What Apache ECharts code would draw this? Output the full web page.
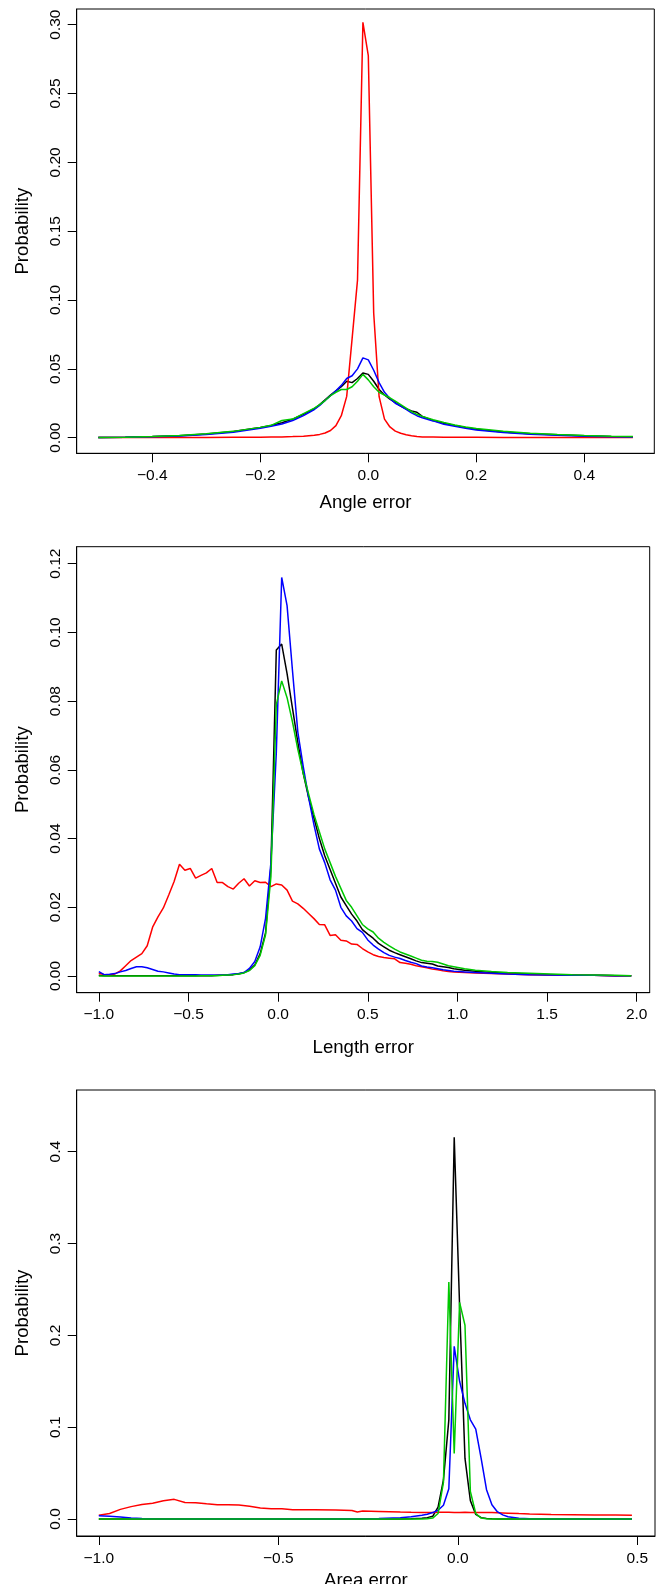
<!DOCTYPE html>
<html>
<head>
<meta charset="utf-8">
<script src="https://cdn.jsdelivr.net/npm/echarts@6.0.0/dist/echarts.min.js"></script>
<style>
html,body{margin:0;padding:0;background:#fff;}
#chart{width:663px;height:1584px;}
</style>
</head>
<body>
<div id="chart"></div>
<script>
// ---------- Panel 1: Angle error ----------
const angleX = [-0.5,-0.45,-0.4,-0.35,-0.3,-0.25,-0.2,-0.18,-0.16,-0.14,-0.12,
  -0.1,-0.09,-0.08,-0.07,-0.06,-0.05,-0.04,-0.03,-0.02,-0.01,0,0.01,0.02,0.03,0.04,0.05,0.06,0.07,0.08,0.09,0.1,
  0.12,0.14,0.16,0.18,0.2,0.25,0.3,0.35,0.4,0.45,0.49];
const angleBlack = [0.0002,0.0004,0.0008,0.0015,0.0027,0.0045,0.0075,0.0088,0.0108,0.0135,0.017,
  0.021,0.024,0.0275,0.031,0.034,0.037,0.041,0.040,0.043,0.047,0.046,0.041,0.035,0.031,0.028,0.0255,0.023,0.021,0.0195,0.0185,0.0155,
  0.0125,0.0105,0.0088,0.0074,0.0062,0.0042,0.0029,0.0021,0.0014,0.0009,0.0006];
const angleRed = [0.0001,0.0001,0.0001,0.0002,0.0002,0.0003,0.0004,0.0005,0.0006,0.0008,0.0011,
  0.0017,0.0024,0.0034,0.0052,0.0088,0.016,0.030,0.072,0.1145,0.3017,0.2775,0.0904,0.0298,0.0135,0.0078,0.0048,0.0032,0.0022,0.0014,0.0008,0.0006,
  0.0005,0.0004,0.0004,0.0003,0.0003,0.0002,0.0002,0.0002,0.0001,0.0001,0.0001];
const angleBlue = [0.0002,0.0004,0.0007,0.0013,0.0024,0.0040,0.0068,0.0083,0.0100,0.0125,0.016,
  0.0205,0.0235,0.027,0.0305,0.034,0.038,0.043,0.045,0.050,0.058,0.0565,0.049,0.040,0.033,0.0285,0.025,0.023,0.0205,0.018,0.016,0.0145,
  0.0122,0.0097,0.0083,0.0068,0.0056,0.0038,0.0025,0.0017,0.0011,0.0007,0.0005];
const angleGreen = [0.0002,0.0004,0.0008,0.0016,0.0029,0.0046,0.0075,0.009,0.0125,0.0135,0.0175,
  0.0215,0.024,0.027,0.0305,0.033,0.035,0.035,0.037,0.041,0.046,0.042,0.037,0.033,0.031,0.029,0.0265,0.024,0.0215,0.019,0.017,0.0155,
  0.013,0.011,0.0092,0.0078,0.0066,0.0046,0.0032,0.0023,0.0016,0.0011,0.0008];
const angleXTicks = [-0.4,-0.2,0,0.2,0.4];
const angleYTicks = [0,0.05,0.10,0.15,0.20,0.25,0.30];

// ---------- Panel 2: Length error ----------
const lengthX = [-1.00,-0.97,-0.94,-0.91,-0.88,-0.85,-0.82,-0.79,-0.76,-0.73,
  -0.70,-0.67,-0.64,-0.61,-0.58,-0.55,-0.52,-0.49,-0.46,-0.43,
  -0.40,-0.37,-0.34,-0.31,-0.28,-0.25,-0.22,-0.19,-0.16,-0.13,
  -0.10,-0.07,-0.04,-0.01,0.02,0.05,0.08,0.11,0.14,0.17,
  0.20,0.23,0.26,0.29,0.32,0.35,0.38,0.41,0.44,0.47,
  0.50,0.53,0.56,0.59,0.62,0.65,0.68,0.71,0.74,0.77,
  0.80,0.83,0.86,0.89,0.92,0.95,0.98,1.01,1.04,1.10,
  1.19,1.28,1.40,1.52,1.64,1.76,1.88,1.97];
const lengthBlack = [0.0002,0.0001,0.0001,0.0001,0.0001,0.0001,0.0001,0.0001,0.0001,0.0001,
  0.0001,0.0001,0.0001,0.0001,0.0001,0.0001,0.0001,0.0001,0.0001,0.0001,
  0.0001,0.0001,0.0002,0.0002,0.0003,0.0004,0.0006,0.0010,0.0017,0.0032,
  0.0065,0.0125,0.0320,0.0949,0.0966,0.0880,0.0780,0.0680,0.0590,0.0520,
  0.0460,0.0400,0.0350,0.0310,0.0270,0.0230,0.0205,0.0180,0.0160,0.0135,
  0.0122,0.0110,0.0095,0.0085,0.0075,0.0068,0.0062,0.0056,0.0050,0.0044,
  0.0039,0.0037,0.0035,0.0029,0.0027,0.0025,0.0021,0.0019,0.0017,0.0014,
  0.0010,0.0008,0.0006,0.0004,0.0003,0.0002,0.0001,0.0001];
const lengthRed = [0.0008,0.0004,0.0003,0.0006,0.0015,0.0030,0.0045,0.0055,0.0065,0.0088,
  0.0142,0.0172,0.0198,0.0236,0.0275,0.0325,0.0308,0.0313,0.0285,0.0293,
  0.0300,0.0313,0.0272,0.0272,0.0260,0.0253,0.0270,0.0283,0.0262,0.0277,
  0.0272,0.0273,0.0260,0.0268,0.0265,0.0250,0.0218,0.0210,0.0197,0.0182,
  0.0167,0.0150,0.0149,0.0118,0.0120,0.0104,0.0102,0.0093,0.0092,0.0080,
  0.0070,0.0062,0.0057,0.0054,0.0052,0.0050,0.0039,0.0037,0.0034,0.0030,
  0.0027,0.0024,0.0020,0.0018,0.0015,0.0013,0.0012,0.0011,0.0010,0.0009,
  0.0007,0.0006,0.0004,0.0003,0.0002,0.0002,0.0001,0.0001];
const lengthBlue = [0.0013,0.0004,0.0005,0.0007,0.0012,0.0016,0.0022,0.0027,0.0027,0.0024,
  0.0019,0.0014,0.0012,0.0009,0.0006,0.0004,0.0004,0.0004,0.0004,0.0003,
  0.0003,0.0003,0.0002,0.0003,0.0004,0.0006,0.0007,0.0010,0.0022,0.0042,
  0.0085,0.0168,0.0330,0.0650,0.1160,0.1078,0.0890,0.0710,0.0610,0.0520,
  0.0440,0.0370,0.0330,0.0280,0.0250,0.0200,0.0175,0.0160,0.0138,0.0127,
  0.0105,0.0090,0.0078,0.0068,0.0060,0.0055,0.0051,0.0045,0.0040,0.0036,
  0.0029,0.0026,0.0024,0.0021,0.0018,0.0016,0.0014,0.0013,0.0012,0.0010,
  0.0008,0.0006,0.0004,0.0003,0.0002,0.0002,0.0001,0.0001];
const lengthGreen = [0,0,0,0,0,0,0,0,0,0,
  0,0,0,0,0,0,0,0,0,0.0001,
  0.0001,0.0001,0.0001,0.0002,0.0003,0.0004,0.0006,0.0009,0.0016,0.0030,
  0.0060,0.0120,0.0290,0.0790,0.0859,0.0810,0.0740,0.0660,0.0590,0.0530,
  0.0470,0.0420,0.0370,0.0330,0.0290,0.0255,0.0220,0.0200,0.0175,0.0150,
  0.0137,0.0128,0.0110,0.0098,0.0088,0.0078,0.0070,0.0064,0.0058,0.0052,
  0.0046,0.0043,0.0042,0.0040,0.0035,0.0030,0.0027,0.0024,0.0021,0.0017,
  0.0013,0.0010,0.0008,0.0006,0.0004,0.0003,0.0002,0.0001];
const lengthXTicks = [-1.0,-0.5,0,0.5,1.0,1.5,2.0];
const lengthYTicks = [0,0.02,0.04,0.06,0.08,0.10,0.12];

// ---------- Panel 3: Area error ----------
const areaX = [-1.000,-0.970,-0.940,-0.910,-0.880,-0.850,-0.820,-0.790,-0.760,-0.730,
  -0.700,-0.670,-0.640,-0.610,-0.580,-0.550,-0.520,-0.490,-0.460,-0.400,
  -0.340,-0.295,-0.280,-0.265,-0.220,-0.160,-0.130,-0.100,-0.085,-0.070,
  -0.055,-0.040,-0.025,-0.010,0.005,0.020,0.035,0.050,0.065,0.080,
  0.095,0.110,0.125,0.140,0.170,0.200,0.260,0.320,0.380,0.440,
  0.485];
const areaBlack = [0,0,0,0,0,0,0,0,0,0,
  0,0,0,0,0,0,0,0,0,0,
  0,0,0,0,0,0.0001,0.0003,0.0008,0.0015,0.0030,
  0.0130,0.0425,0.1080,0.4157,0.2320,0.0660,0.0200,0.0050,0.0015,0.0005,
  0.0002,0.0001,0,0,0,0,0,0,0,0,
  0];
const areaRed = [0.0042,0.0060,0.0105,0.0135,0.0158,0.0172,0.0200,0.0214,0.0180,0.0178,
  0.0165,0.0155,0.0156,0.0152,0.0138,0.0120,0.0113,0.0112,0.0102,0.0101,
  0.0097,0.0093,0.0076,0.0088,0.0083,0.0076,0.0073,0.0072,0.0071,0.0072,
  0.0074,0.0075,0.0074,0.0072,0.0070,0.0073,0.0071,0.0070,0.0071,0.0071,
  0.0070,0.0068,0.0066,0.0064,0.0059,0.0055,0.0049,0.0047,0.0045,0.0043,
  0.0041];
const areaBlue = [0.0035,0.0030,0.0022,0.0012,0.0005,0.0002,0.0001,0,0,0,
  0,0,0,0,0,0,0,0,0,0,
  0.0001,0.0002,0.0002,0.0003,0.0005,0.0013,0.0025,0.0042,0.0052,0.0070,
  0.0095,0.0150,0.0330,0.1880,0.1500,0.1260,0.1080,0.0980,0.0660,0.0320,
  0.0155,0.0080,0.0045,0.0025,0.0008,0.0003,0.0001,0,0,0,
  0];
const areaGreen = [0,0,0,0,0,0,0,0,0,0,
  0,0,0,0,0,0,0,0,0,0,
  0,0,0,0,0,0,0,0.0001,0.0003,0.0010,
  0.0060,0.0400,0.2580,0.0715,0.2360,0.2110,0.0300,0.0060,0.0010,0.0003,
  0.0001,0,0,0,0,0,0,0,0,0,
  0];
const areaXTicks = [-1.0,-0.5,0,0.5];
const areaYTicks = [0,0.1,0.2,0.3,0.4];

const xTitles = ['Angle error','Length error','Area error'];
const yTitle = 'Probability';

// ---------- layout ----------
const FONT = '"Liberation Sans", Arial, Helvetica, sans-serif';
const panels = [
  {grid:{left:76.7, top:9, width:577.6, height:444.3}, xMin:-0.54, xMax:0.5296, yMin:-0.01133, yMax:0.3114,
   xTicks:angleXTicks, yTicks:angleYTicks, xDec:1, yDec:2, nameGap:40, titleY:null,
   x:angleX, ys:[angleBlack, angleRed, angleBlue, angleGreen]},
  {grid:{left:76.7, top:546.7, width:573, height:446}, xMin:-1.1233, xMax:2.0725, yMin:-0.00486, yMax:0.12495,
   xTicks:lengthXTicks, yTicks:lengthYTicks, xDec:1, yDec:2, nameGap:46, titleY:null,
   x:lengthX, ys:[lengthBlack, lengthRed, lengthBlue, lengthGreen]},
  {grid:{left:76.7, top:1090, width:578.3, height:446}, xMin:-1.0616, xMax:0.5493, yMin:-0.0185, yMax:0.4672,
   xTicks:areaXTicks, yTicks:areaYTicks, xDec:1, yDec:1, nameGap:40, titleY:1581,
   x:areaX, ys:[areaBlack, areaRed, areaBlue, areaGreen]}
];
const colors = ['#000000','#FF0000','#0000FF','#00C800'];

const fmt = d => v => v.toFixed(d).replace('-', '\u2212');

const option = {
  animation:false,
  backgroundColor:'#fff',
  grid: panels.map(p => Object.assign({show:true, borderColor:'#000', borderWidth:1, backgroundColor:'transparent'}, p.grid)),
  xAxis: panels.map((p,i) => ({
    type:'value', gridIndex:i, min:p.xMin, max:p.xMax, position:'bottom',
    axisLine:{show:true, onZero:false, lineStyle:{color:'#000', width:1}}, splitLine:{show:false},
    axisTick:{show:true, length:9, lineStyle:{color:'#000', width:1}, customValues:p.xTicks},
    axisLabel:{customValues:p.xTicks, formatter:fmt(p.xDec), color:'#000', fontSize:15.5, fontFamily:FONT, margin:14.5},
    name: p.titleY === null ? xTitles[i] : '', nameLocation:'middle', nameGap:p.nameGap,
    nameTextStyle:{fontSize:18.6, color:'#000', fontFamily:FONT}
  })),
  yAxis: panels.map((p,i) => ({
    type:'value', gridIndex:i, min:p.yMin, max:p.yMax, position:'left',
    axisLine:{show:true, onZero:false, lineStyle:{color:'#000', width:1}}, splitLine:{show:false},
    axisTick:{show:true, length:9, lineStyle:{color:'#000', width:1}, customValues:p.yTicks},
    axisLabel:{customValues:p.yTicks, formatter:fmt(p.yDec), color:'#000', fontSize:15.5, fontFamily:FONT, margin:13, rotate:90},
    name:yTitle, nameLocation:'middle', nameGap:44,
    nameTextStyle:{fontSize:18.6, color:'#000', fontFamily:FONT}
  })),
  graphic: panels.filter(p => p.titleY !== null).map(p => ({
    type:'text', x: p.grid.left + p.grid.width / 2, y: p.titleY, silent:true,
    style:{text: xTitles[panels.indexOf(p)], fill:'#000', font:'18.6px ' + FONT,
      align:'center', verticalAlign:'middle', textAlign:'center', textVerticalAlign:'middle'}
  })),
  series: []
};
panels.forEach((p,i) => {
  p.ys.forEach((ys,j) => {
    option.series.push({
      type:'line', xAxisIndex:i, yAxisIndex:i,
      data: p.x.map((xv,k) => [xv, ys[k]]),
      showSymbol:false, symbol:'none', silent:true,
      lineStyle:{color:colors[j], width:1.5},
      itemStyle:{color:colors[j]},
      z: 2 + j
    });
  });
});

const chart = echarts.init(document.getElementById('chart'), null, {renderer:'canvas'});
chart.setOption(option);
</script>
</body>
</html>
